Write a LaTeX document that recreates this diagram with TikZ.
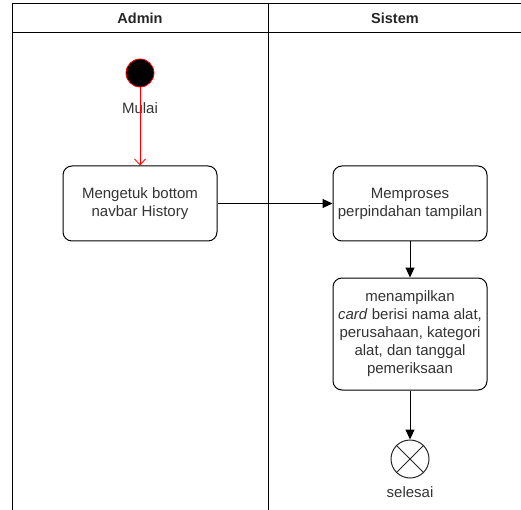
\documentclass[tikz,border=0pt]{standalone}
\usepackage{fontspec}
\setmainfont{Liberation Sans}
\usetikzlibrary{arrows.meta}
\begin{document}
\begin{tikzpicture}[x=1pt,y=-1pt,
  act/.style={draw, rounded corners=9pt, line width=1pt, align=center, font=\fontsize{15}{18}\selectfont, text=black!80},
  lbl/.style={font=\fontsize{15}{18}\selectfont, text=black!80},
  hdr/.style={font=\bfseries\fontsize{14.5}{18}\selectfont, text=black!85},
  flow/.style={-{Triangle[length=10pt,width=9pt]}, line width=1pt},
  lane/.style={line width=1pt}]
\useasboundingbox (0,0) rectangle (521,510);
% swimlanes
\draw[lane] (12,510) -- (12,4) -- (521,4);
\draw[lane] (12,33) -- (521,33);
\draw[lane] (268,4) -- (268,510);
\node[hdr] (hA) at (140,18) {Admin};
\node[hdr] (hS) at (395,18) {Sistem};
% start
\node[circle, fill=black, draw=red, line width=0.8pt, minimum size=28pt, inner sep=0pt] (start) at (140,73) {};
\node[lbl] (mulai) at (140,108) {Mulai};
% activities
\node[act, minimum width=154pt, minimum height=75pt] (a1) at (140,203.5) {Mengetuk bottom\\navbar History};
\node[act, minimum width=154pt, minimum height=75pt] (a2) at (410,203.5) {Memproses\\perpindahan tampilan};
\node[act, minimum width=154pt, minimum height=112pt, inner xsep=1pt] (a3) at (410,334) {menampilkan\\\textit{card} berisi nama alat,\\perusahaan, kategori\\alat, dan tanggal\\pemeriksaan};
% end
\node[circle, draw=black!85, line width=1pt, minimum size=38pt, inner sep=0pt] (end) at (410,459) {};
\draw[black!85, line width=1pt] (end.north west) -- (end.south east) (end.north east) -- (end.south west);
\node[lbl] (sel) at (410,492) {selesai};
% flows
\draw[red, line width=0.8pt, -{Straight Barb[length=6pt,width=11pt]}] (start) -- (a1);
\draw[flow] (a1) -- (a2);
\draw[flow] (a2) -- (a3);
\draw[flow] (a3) -- (end);
\end{tikzpicture}
\end{document}
